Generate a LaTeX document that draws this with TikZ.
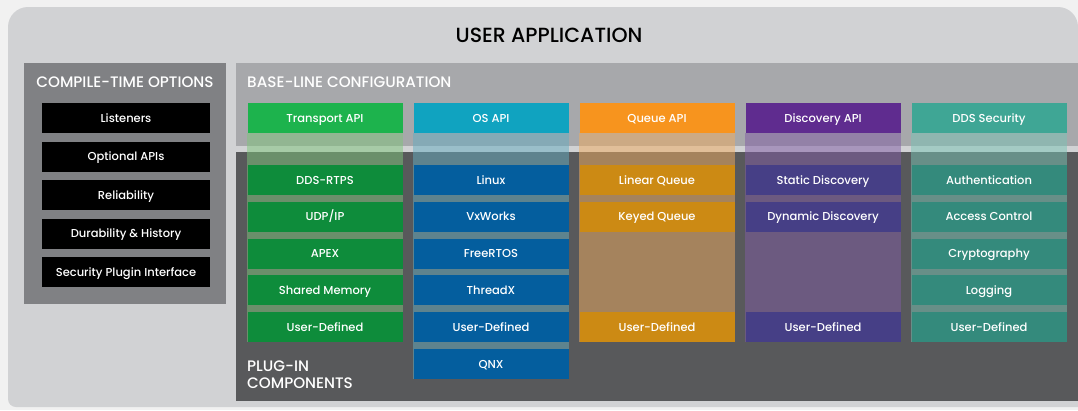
\documentclass[tikz,border=0pt]{standalone}
\usepackage{fontspec}
\setmainfont{Poppins}[BoldFont={Poppins Medium}]
\usetikzlibrary{positioning,backgrounds}
\definecolor{pagebg}{HTML}{F1F1F1}
\definecolor{userbg}{HTML}{D1D2D4}
\definecolor{compilebg}{HTML}{808184}
\definecolor{basebg}{HTML}{A7A8AB}
\definecolor{plugbg}{HTML}{58595B}
\definecolor{tphead}{HTML}{1DB34D}
\definecolor{tprow}{HTML}{0E8C3B}
\definecolor{tpband}{HTML}{7EC57B}
\definecolor{oshead}{HTML}{10A3C0}
\definecolor{osrow}{HTML}{045E9E}
\definecolor{osband}{HTML}{64ADC1}
\definecolor{qhead}{HTML}{F7941E}
\definecolor{qrow}{HTML}{CC8A14}
\definecolor{qband}{HTML}{F2AD5F}
\definecolor{dhead}{HTML}{5F2C8F}
\definecolor{drow}{HTML}{463F86}
\definecolor{dband}{HTML}{805BA5}
\definecolor{shead}{HTML}{3FA695}
\definecolor{srow}{HTML}{348A7C}
\definecolor{sband}{HTML}{78C5B5}
\tikzstyle{block} = [rectangle, text centered, minimum width=155pt, minimum height=30pt, inner sep=0pt, text height=8pt, text depth=0pt, text=white, font=\fontsize{11.5}{13}\selectfont\bfseries]
\tikzstyle{option} = [block, fill=black, minimum width=168pt]
\tikzstyle{title} = [inner sep=0pt, text height=10.5pt, text depth=0pt, text=white, font=\fontsize{15.2}{17}\selectfont\bfseries]
\tikzstyle{band} = [fill opacity=0.5]

\begin{document}
\begin{tikzpicture}[x=1pt, y=-1pt, node distance=36.8pt]
        \useasboundingbox (0,0) rectangle (1078,410);
        \node[title, text=black, text height=14pt, font=\fontsize{20.5}{23}\selectfont\bfseries] (user) at (549,35) {USER APPLICATION};
        % compile-time options
        \node[title] (compile) at (125,82) {COMPILE-TIME OPTIONS};
        \node[option] (listen) at (126,118) {Listeners};
        \node[option, below of=listen, node distance=38.5pt] (optapi) {Optional APIs};
        \node[option, below of=optapi, node distance=38.5pt] (rely) {Reliability};
        \node[option, below of=rely, node distance=38.5pt] (durab) {Durability \& History};
        \node[option, below of=durab, node distance=38.5pt] (secplug) {Security Plugin Interface};
        % transport
        \node[block, fill=tphead] (tapi) at (325,118) {Transport API};
        \node[block, fill=tprow, node distance=62pt, below of=tapi] (rtps) {DDS-RTPS};
        \node[block, fill=tprow, below of=rtps] (udp) {UDP/IP};
        \node[block, fill=tprow, below of=udp] (apex) {APEX};
        \node[block, fill=tprow, below of=apex] (shmem) {Shared Memory};
        \node[block, fill=tprow, below of=shmem] (tpuser) {User-Defined};
        % os
        \node[block, fill=oshead] (osapi) at (491,118) {OS API};
        \node[block, fill=osrow, node distance=62pt, below of=osapi] (linux) {Linux};
        \node[block, fill=osrow, below of=linux] (vxw) {VxWorks};
        \node[block, fill=osrow, below of=vxw] (frtos) {FreeRTOS};
        \node[block, fill=osrow, below of=frtos] (thrx) {ThreadX};
        \node[block, fill=osrow, below of=thrx] (osuser) {User-Defined};
        \node[block, fill=osrow, below of=osuser] (qnx) {QNX};
        % queue
        \node[block, fill=qhead] (qapi) at (657,118) {Queue API};
        \node[block, fill=qrow, node distance=62pt, below of=qapi] (linq) {Linear Queue};
        \node[block, fill=qrow, below of=linq] (keyq) {Keyed Queue};
        \node[block, fill=qrow, node distance=110.4pt, below of=keyq] (quser) {User-Defined};
        % discovery
        \node[block, fill=dhead] (dapi) at (823,118) {Discovery API};
        \node[block, fill=drow, node distance=62pt, below of=dapi] (sdisc) {Static Discovery};
        \node[block, fill=drow, below of=sdisc] (ddisc) {Dynamic Discovery};
        \node[block, fill=drow, node distance=110.4pt, below of=ddisc] (duser) {User-Defined};
        % security
        \node[block, fill=shead] (secapi) at (989,118) {DDS Security};
        \node[block, fill=srow, node distance=62pt, below of=secapi] (auth) {Authentication};
        \node[block, fill=srow, below of=auth] (access) {Access Control};
        \node[block, fill=srow, below of=access] (crypt) {Cryptography};
        \node[block, fill=srow, below of=crypt] (logg) {Logging};
        \node[block, fill=srow, below of=logg] (suser) {User-Defined};
        \node[title, anchor=west] (base) at (247,82) {BASE-LINE CONFIGURATION};
        \node[title, anchor=west, align=left, text height=, text depth=, font=\fontsize{15.2}{17}\selectfont\bfseries] (plug) at (247,375) {PLUG-IN\\COMPONENTS};
        % frames, base-line and plug-in areas
        \begin{scope}[on background layer]
            \fill[pagebg] (0,0) rectangle (1078,410);
            \fill[userbg, rounded corners=20pt] (8,7) rectangle (1078,300);
            \fill[userbg, rounded corners=8pt] (8,100) rectangle (1100,407);
            \fill[compilebg] (24,63) rectangle (226,304);
            \fill[basebg] (236,63) rectangle (1078,146);
            \fill[plugbg] (236,152) rectangle (1078,401);
            \fill[band, fill=tpband] (tapi.south west) rectangle (tpuser.south east);
            \fill[band, fill=osband] (osapi.south west) rectangle (qnx.south east);
            \fill[band, fill=qband] (qapi.south west) rectangle (quser.south east);
            \fill[band, fill=dband] (dapi.south west) rectangle (duser.south east);
            \fill[band, fill=sband] (secapi.south west) rectangle (suser.south east);
        \end{scope}
    \end{tikzpicture}
\end{document}
